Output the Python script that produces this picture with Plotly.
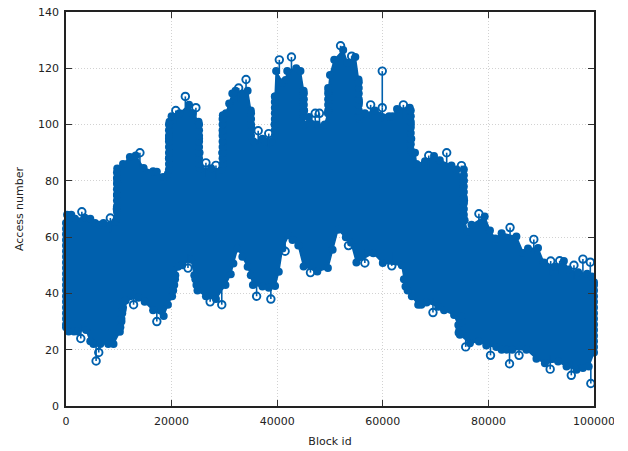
import plotly.graph_objects as go

upper_ids = [0,200,1000,1700,3000,3500,4600,5500,6300,7100,8400,9300,9600,9650,9700,9700,10800,12100,13200,14000,14700,16500,17200,18400,19300,19500,19500,19600,20000,20800,21500,22600,23300,24000,24600,25100,25200,25300,25500,26500,27500,28400,29500,29600,29700,29700,30300,30900,31500,32100,32700,33400,34100,34400,35000,35100,35500,36400,37200,37800,38400,39000,39500,39600,39800,40400,41000,41600,41900,42700,43600,44400,45000,45100,45200,46000,47200,47500,48000,49000,49600,49700,50000,50800,52000,52500,53300,54100,54800,55400,55500,55600,56600,57700,58500,59900,61200,61900,62700,63900,65100,65300,65400,65500,66100,66400,68000,68700,69700,70800,72100,73000,74000,74900,75300,75400,75500,76000,76800,78200,79300,80300,81300,82500,84100,85300,86600,87500,88600,89400,90500,91800,92700,93500,94300,95200,96200,97000,97900,98700,99300,99600,100000]
upper_vals = [65,68,68,66.5,69,67,66.5,65,64.4,65,66.8,65.5,70,75,80,84.4,86,88.5,89,90,84.6,83.4,83.2,81.4,82.5,88,95,101,103,105,104,110,107,104,106,101,95,90,84.5,86.4,84.5,85.5,84,90,97,103.3,104,107.5,111,112,113,111,116,112,105,99,94,97.8,95,94,96.8,94,100,110,119,123,115,115.8,119,124,120,119,112,105,100,102.7,104,100,104,100,104,112,117.6,123,128,126.5,122,124.3,124,116,108,102,104,107,105,106,103,103,105.5,107,106,100,95,90,90,86,87,89,88.8,87.3,90,85.5,84,85.4,80,73,66,62,64.4,68.3,67.3,62.4,59.5,61.4,63.4,60.2,54.4,56,59.2,56.1,51,51.5,49.5,51.6,51.5,48.5,50,47.5,52.2,47,51.1,46,44]

lower_ids = [0,500,1500,2200,2800,3800,4600,5200,6500,8000,9000,10200,10500,10700,10900,11300,12800,13700,14900,16500,17200,18500,19300,20100,20700,21200,22000,23100,23700,24300,24900,26500,27300,28400,29500,30200,31200,31700,32500,33400,34400,35000,35400,36100,37200,38400,38800,39600,40300,41000,41500,42200,42900,44000,45000,46300,47600,49600,50500,51500,53000,53500,54000,55000,56600,58200,60000,61700,63600,64300,65500,66700,67300,68300,69500,70500,71600,73500,74300,74600,75700,76500,78200,79600,80400,81500,82500,83500,84000,84500,85800,87200,89100,90700,91700,93200,94800,95700,96700,97900,99000,100000]
lower_vals = [28,26.5,26.5,26.5,24,27,23,22,22,22,22,26.4,30,34,37,37.5,36,38.5,37,34,30,32,36,39,46.5,49.5,50,49,52,46.5,41,39,37,38,36,43,46.8,50.6,56,53,49.5,46.5,43,39,42.5,42,38,42.6,47.7,56,55,60.7,59,57,49.6,47.4,47.8,49,55.5,62.6,60,57,58,51,50.8,54.3,50.8,49.8,50,42.5,39,36,36,36.8,33.2,35.3,34,32.3,28.8,25.3,21,22.3,22.9,21.5,18,21,20,20,15,20,18,20,16.8,15.2,13.1,15.8,14,10.9,12.9,13.5,14,19]

wall_ids = [9650]*9 + [19500]*9 + [25200]*8 + [29650]*9 + [35050]*5 + [39550]*8 + [45050]*5 + [49650]*5 + [55450]*7 + [65300]*8 + [75350]*10 + [10300,10500,10650,10800,20300,20500,20650,24700,24500,64000,64700,75000,74800,74500,74350]
wall_vals = [67,69,71,73,75,77,79,81,83, 84,86,88,90,92,94,96,98,100, 86,88,90,92,94,96,98,100, 86,88,90,92,94,96,98,100,102, 96,98,100,102,104, 96,98,100,102,104,106,108,110, 103,105,107,109,111, 105,107,109,111,113, 103,105,107,109,111,113,115, 91,93,95,97,99,101,103,105, 66,68,70,72,74,76,78,80,82,84, 28,31,33,35,41,43,45,43,45,45,41,30,32,27,26]

spike_ids = [5700,6200,59900,99400]
spike_starts = [22,22,106,14]
spike_ends = [16,19,119,8]

left_edge_vals = [29,31,33,35,37,39,41,43,45,47,49,51,53,55,57,59,61,63]
right_edge_vals = [21,23,25,27,29,31,33,35,37,39,41,43]

x_ticks = [0,20000,40000,60000,80000,100000]
y_ticks = [0,20,40,60,80,100,120,140]

BLUE = "#0060ad"
RING = dict(symbol="circle-open", size=7.5, color=BLUE, line=dict(width=1.9))
DISC = dict(symbol="circle", size=8, color=BLUE, line=dict(width=0))
fig = go.Figure()

# split each envelope into points that stick out (rings) and points of the mass
ring_x, ring_y, stem_x, stem_y = [], [], [], []
body_up_x, body_up_y, body_lo_x, body_lo_y = [], [], [], []
n = len(upper_ids)
for k in range(n):
    a = upper_vals[k - 1] if k else -1
    b = upper_vals[k + 1] if k < n - 1 else -1
    if upper_vals[k] > a and upper_vals[k] > b:
        ring_x.append(upper_ids[k]); ring_y.append(upper_vals[k])
        stem_x += [upper_ids[k], upper_ids[k], None]
        stem_y += [upper_vals[k], upper_vals[k] - 5, None]
    else:
        body_up_x.append(upper_ids[k]); body_up_y.append(upper_vals[k])
n = len(lower_ids)
for k in range(n):
    a = lower_vals[k - 1] if k else 999
    b = lower_vals[k + 1] if k < n - 1 else 999
    if lower_vals[k] < a and lower_vals[k] < b:
        ring_x.append(lower_ids[k]); ring_y.append(lower_vals[k])
        stem_x += [lower_ids[k], lower_ids[k], None]
        stem_y += [lower_vals[k], lower_vals[k] + 5, None]
    else:
        body_lo_x.append(lower_ids[k]); body_lo_y.append(lower_vals[k])

for i, a, b in zip(spike_ids, spike_starts, spike_ends):
    stem_x += [i, i, None]
    stem_y += [a, b, None]
    ring_x.append(i); ring_y.append(b)

fig.add_trace(go.Scatter(
    x=body_up_x + body_lo_x[::-1], y=body_up_y + body_lo_y[::-1],
    mode="lines", fill="toself", fillcolor=BLUE,
    line=dict(color=BLUE, width=1.5), hoverinfo="skip", cliponaxis=False))

disc_x = body_up_x + body_lo_x + wall_ids + [0]*len(left_edge_vals) + [100000]*len(right_edge_vals)
disc_y = body_up_y + body_lo_y + wall_vals + left_edge_vals + right_edge_vals
fig.add_trace(go.Scatter(x=disc_x, y=disc_y, mode="markers", marker=DISC, cliponaxis=False))
fig.add_trace(go.Scatter(x=stem_x, y=stem_y, mode="lines",
    line=dict(color=BLUE, width=1.6), cliponaxis=False))
fig.add_trace(go.Scatter(x=ring_x, y=ring_y, mode="markers", marker=RING, cliponaxis=False))

axis_common = dict(
    showgrid=True, gridcolor="#d2d2d2", griddash="1px,2px", gridwidth=1,
    showline=True, linecolor="#222222", linewidth=1.5, mirror="allticks",
    ticks="inside", ticklen=6, tickcolor="#333333", tickwidth=1,
    zeroline=False, tickfont=dict(family="DejaVu Sans", size=11, color="#222222"),
    ticklabeloverflow="allow", layer="above traces")
tfont = dict(family="DejaVu Sans", size=11, color="#222222")

fig.update_layout(
    width=614, height=451, showlegend=False,
    paper_bgcolor="white", plot_bgcolor="white",
    margin=dict(l=65.7, r=19.7, t=12, b=44.7, autoexpand=False),
    xaxis=dict(range=[0,100000], tickvals=x_ticks, ticktext=[str(v) for v in x_ticks],
        ticklabelstandoff=4,
        title=dict(text="Block id", standoff=10, font=tfont), **axis_common),
    yaxis=dict(range=[0,140], tickvals=y_ticks, ticktext=[str(v) for v in y_ticks],
        ticklabelstandoff=3,
        title=dict(text="Access number", standoff=12, font=tfont), **axis_common),
)
fig.write_html("out.html", config={"displayModeBar": False},
    post_script="document.body.style.margin='0';document.body.style.overflow='hidden';")
